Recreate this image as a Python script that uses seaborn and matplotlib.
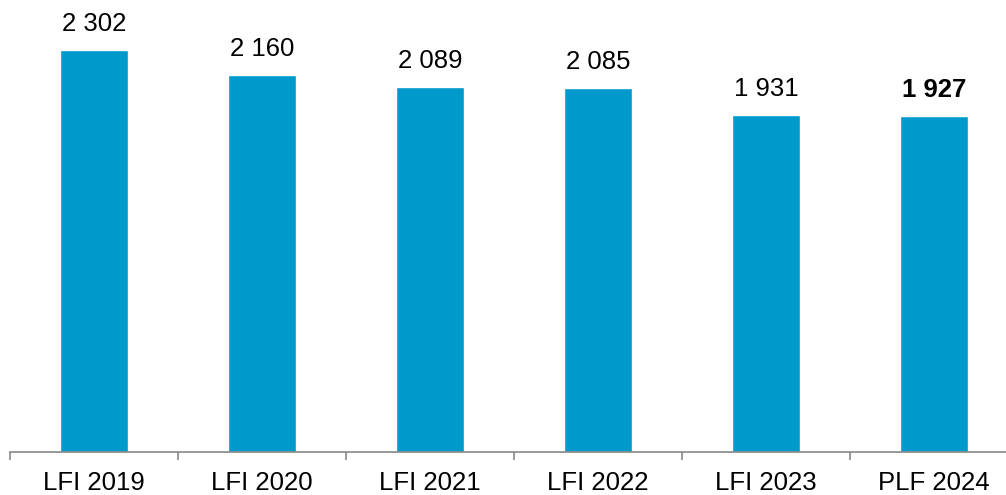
import matplotlib
matplotlib.use("Agg")
import matplotlib.pyplot as plt
import seaborn as sns
import pandas as pd
import numpy as np

# Chart data
categories = ["LFI 2019", "LFI 2020", "LFI 2021", "LFI 2022", "LFI 2023", "PLF 2024"]
values = [2302, 2160, 2089, 2085, 1931, 1927]
value_labels = ["2 302", "2 160", "2 089", "2 085", "1 931", "1 927"]

sns.set_theme(style="white")
plt.rcParams['font.family'] = ['Liberation Sans', 'DejaVu Sans']

df = pd.DataFrame({"cat": categories, "val": values})

fig = plt.figure(figsize=(10.06, 4.95), dpi=100)
# axes runs a bit past the right edge, like the original
ax = fig.add_axes([10 / 1006, 43 / 495, 1008 / 1006, 452 / 495])

sns.barplot(data=df, x="cat", y="val", color="#0099cc", width=0.41,
            saturation=1, ax=ax)

# value labels above bars, last one in bold
for i, (v, lab) in enumerate(zip(values, value_labels)):
    ax.annotate(lab, (i, v), xytext=(0, 10), textcoords="offset points",
                ha="center", va="bottom", fontsize=18.5,
                fontweight="bold" if i == len(values) - 1 else "normal",
                color="black")

ax.set_ylim(0, 2589)
ax.set_xlim(-0.5, len(categories) - 0.5)
ax.set_xlabel("")
ax.set_ylabel("")
ax.set_yticks([])

for side in ["top", "right", "left"]:
    ax.spines[side].set_visible(False)
ax.spines["bottom"].set_color("#888888")
ax.spines["bottom"].set_linewidth(1.2)

# separator ticks between categories
ax.set_xticks(np.arange(-0.5, len(categories)), minor=True)
ax.tick_params(axis="x", which="minor", length=6, width=1.2, color="#888888",
               direction="out", bottom=True)
ax.tick_params(axis="x", which="major", length=0, pad=14, labelsize=18.5,
               labelcolor="black")

fig.savefig("out.png", dpi=100)
